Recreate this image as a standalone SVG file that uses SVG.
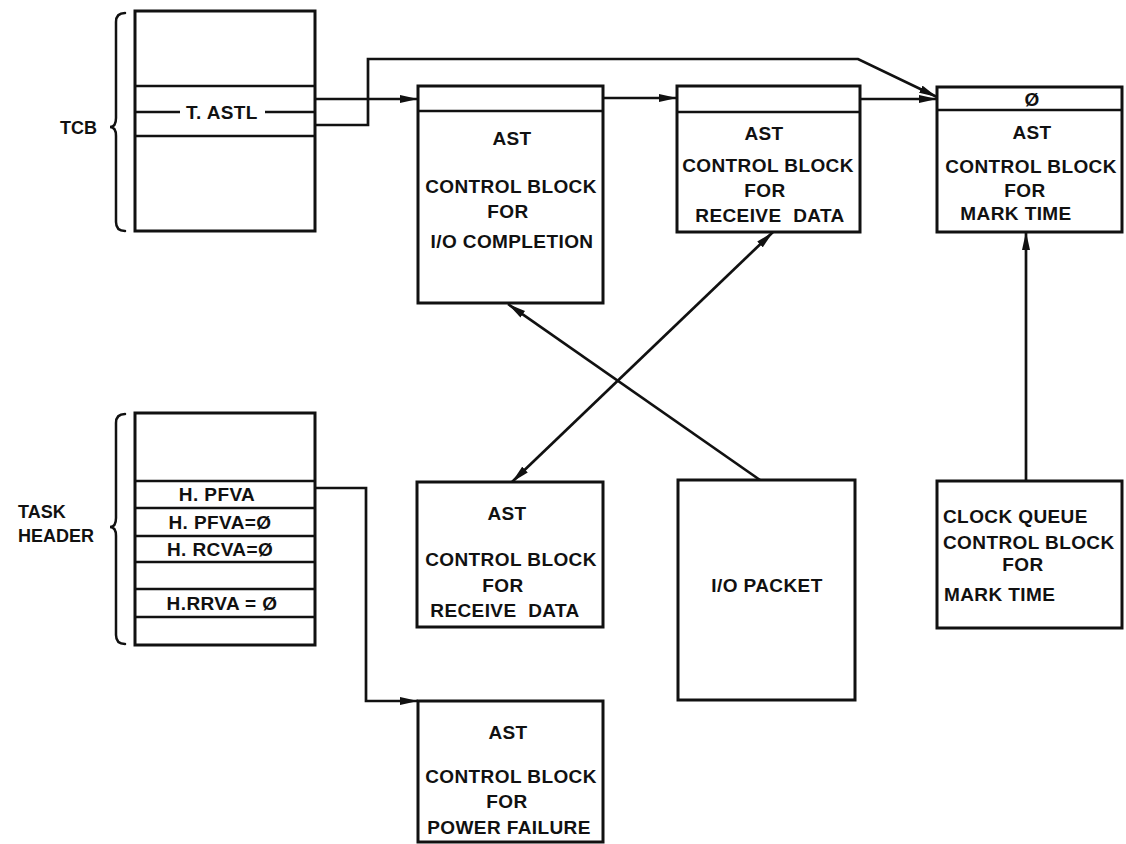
<svg xmlns="http://www.w3.org/2000/svg" width="1126" height="844" viewBox="0 0 1126 844">
  <style>
    .box { fill: #fff; stroke: #111; stroke-width: 3; }
    .rule { stroke: #111; stroke-width: 2.5; fill: none; }
    .brace { stroke: #111; stroke-width: 2.5; fill: none; stroke-linecap: round; }
    .wire { stroke: #111; stroke-width: 2.7; fill: none; }
    .t { font-family: "Liberation Sans", Arial, Helvetica, sans-serif; font-weight: bold; font-size: 19px; fill: #111; letter-spacing: 0.4px; }
    .c { text-anchor: middle; }
    .lbl { font-family: "Liberation Sans", Arial, Helvetica, sans-serif; font-weight: bold; font-size: 18px; fill: #111; }
  </style>
  <defs>
    <marker id="arrow" viewBox="0 0 18 9" refX="18" refY="4.5" markerWidth="18" markerHeight="9" markerUnits="userSpaceOnUse" orient="auto-start-reverse">
      <path d="M0,0.5 L18,4.5 L0,8.5 Z" fill="#111"/>
    </marker>
  </defs>

  <rect width="1126" height="844" fill="#fff"/>

  <!-- task control block -->
  <g id="tcb">
    <path class="brace" d="M125,13 Q116,13 116,22 L116,118 Q116,127 110,127 Q116,127 116,136 L116,222 Q116,231 125,231"/>
    <text class="lbl" x="60" y="134">TCB</text>
    <rect class="box" x="135" y="11" width="180" height="220"/>
    <line class="rule" x1="135" y1="86" x2="315" y2="86"/>
    <line class="rule" x1="135" y1="112" x2="180" y2="112"/>
    <line class="rule" x1="265" y1="112" x2="315" y2="112"/>
    <line class="rule" x1="135" y1="136" x2="315" y2="136"/>
    <text class="t c" x="222" y="119">T. ASTL</text>
  </g>

  <!-- AST block for I/O completion -->
  <g id="ast-io">
    <rect class="box" x="418" y="86" width="185" height="217"/>
    <line class="rule" x1="418" y1="111" x2="603" y2="111"/>
    <text class="t c" x="512" y="145">AST</text>
    <text class="t c" x="511" y="193">CONTROL BLOCK</text>
    <text class="t c" x="508" y="218">FOR</text>
    <text class="t c" x="512" y="248">I/O COMPLETION</text>
  </g>

  <!-- AST block for receive data (queued) -->
  <g id="ast-recv-1">
    <rect class="box" x="677" y="86" width="183" height="146"/>
    <line class="rule" x1="677" y1="112" x2="860" y2="112"/>
    <text class="t c" x="764" y="140">AST</text>
    <text class="t c" x="768" y="172">CONTROL BLOCK</text>
    <text class="t c" x="765" y="197">FOR</text>
    <text class="t c" x="770" y="222" word-spacing="6">RECEIVE DATA</text>
  </g>

  <!-- AST block for mark time (end of list) -->
  <g id="ast-mark">
    <rect class="box" x="937" y="87" width="185" height="145"/>
    <line class="rule" x1="937" y1="110" x2="1122" y2="110"/>
    <text class="t c" x="1032" y="106">Ø</text>
    <text class="t c" x="1032" y="139">AST</text>
    <text class="t c" x="1031" y="173">CONTROL BLOCK</text>
    <text class="t c" x="1025" y="197">FOR</text>
    <text class="t c" x="1016" y="220">MARK TIME</text>
  </g>

  <!-- task header -->
  <g id="task-header">
    <path class="brace" d="M125,414 Q116,414 116,423 L116,518 Q116,527 110,527 Q116,527 116,536 L116,635 Q116,644 125,644"/>
    <text class="lbl" x="18" y="518" font-size="17">TASK</text>
    <text class="lbl" x="18" y="542" font-size="17">HEADER</text>
    <rect class="box" x="135" y="413" width="180" height="232"/>
    <line class="rule" x1="135" y1="481" x2="315" y2="481"/>
    <line class="rule" x1="135" y1="508" x2="315" y2="508"/>
    <line class="rule" x1="135" y1="536" x2="315" y2="536"/>
    <line class="rule" x1="135" y1="562" x2="315" y2="562"/>
    <line class="rule" x1="135" y1="589" x2="315" y2="589"/>
    <line class="rule" x1="135" y1="617" x2="315" y2="617"/>
    <text class="t c" x="217" y="501">H. PFVA</text>
    <text class="t c" x="220" y="529">H. PFVA=Ø</text>
    <text class="t c" x="220" y="556">H. RCVA=Ø</text>
    <text class="t c" x="222" y="610">H.RRVA = Ø</text>
  </g>

  <!-- AST block for receive data (lower) -->
  <g id="ast-recv-2">
    <rect class="box" x="417" y="482" width="186" height="145"/>
    <text class="t c" x="507" y="520">AST</text>
    <text class="t c" x="511" y="566">CONTROL BLOCK</text>
    <text class="t c" x="503" y="592">FOR</text>
    <text class="t c" x="505" y="617" word-spacing="6">RECEIVE DATA</text>
  </g>

  <!-- I/O packet -->
  <g id="io-packet">
    <rect class="box" x="678" y="480" width="177" height="220"/>
    <text class="t c" x="767" y="592">I/O PACKET</text>
  </g>

  <!-- clock queue block -->
  <g id="clock-queue">
    <rect class="box" x="937" y="481" width="185" height="147"/>
    <text class="t" x="943" y="523">CLOCK QUEUE</text>
    <text class="t" x="943" y="549">CONTROL BLOCK</text>
    <text class="t c" x="1023" y="571">FOR</text>
    <text class="t" x="944" y="601">MARK TIME</text>
  </g>

  <!-- AST block for power failure -->
  <g id="ast-power">
    <rect class="box" x="418" y="701" width="185" height="141"/>
    <text class="t c" x="508" y="739">AST</text>
    <text class="t c" x="511" y="783">CONTROL BLOCK</text>
    <text class="t c" x="507" y="808">FOR</text>
    <text class="t c" x="509" y="834">POWER FAILURE</text>
  </g>

  <!-- pointers -->
  <g id="connectors">
    <path class="wire" d="M315,99 H418" marker-end="url(#arrow)"/>
    <path class="wire" d="M315,125 H368 V59 H858 L937,97" marker-end="url(#arrow)"/>
    <path class="wire" d="M603,98 H677" marker-end="url(#arrow)"/>
    <path class="wire" d="M860,99 H937" marker-end="url(#arrow)"/>
    <path class="wire" d="M1026,481 V232" marker-end="url(#arrow)"/>
    <path class="wire" d="M760,480 L508,304" marker-end="url(#arrow)"/>
    <path class="wire" d="M773,232 L512,482" marker-start="url(#arrow)" marker-end="url(#arrow)"/>
    <path class="wire" d="M315,488 H366 V701 H418" marker-end="url(#arrow)"/>
  </g>
</svg>
